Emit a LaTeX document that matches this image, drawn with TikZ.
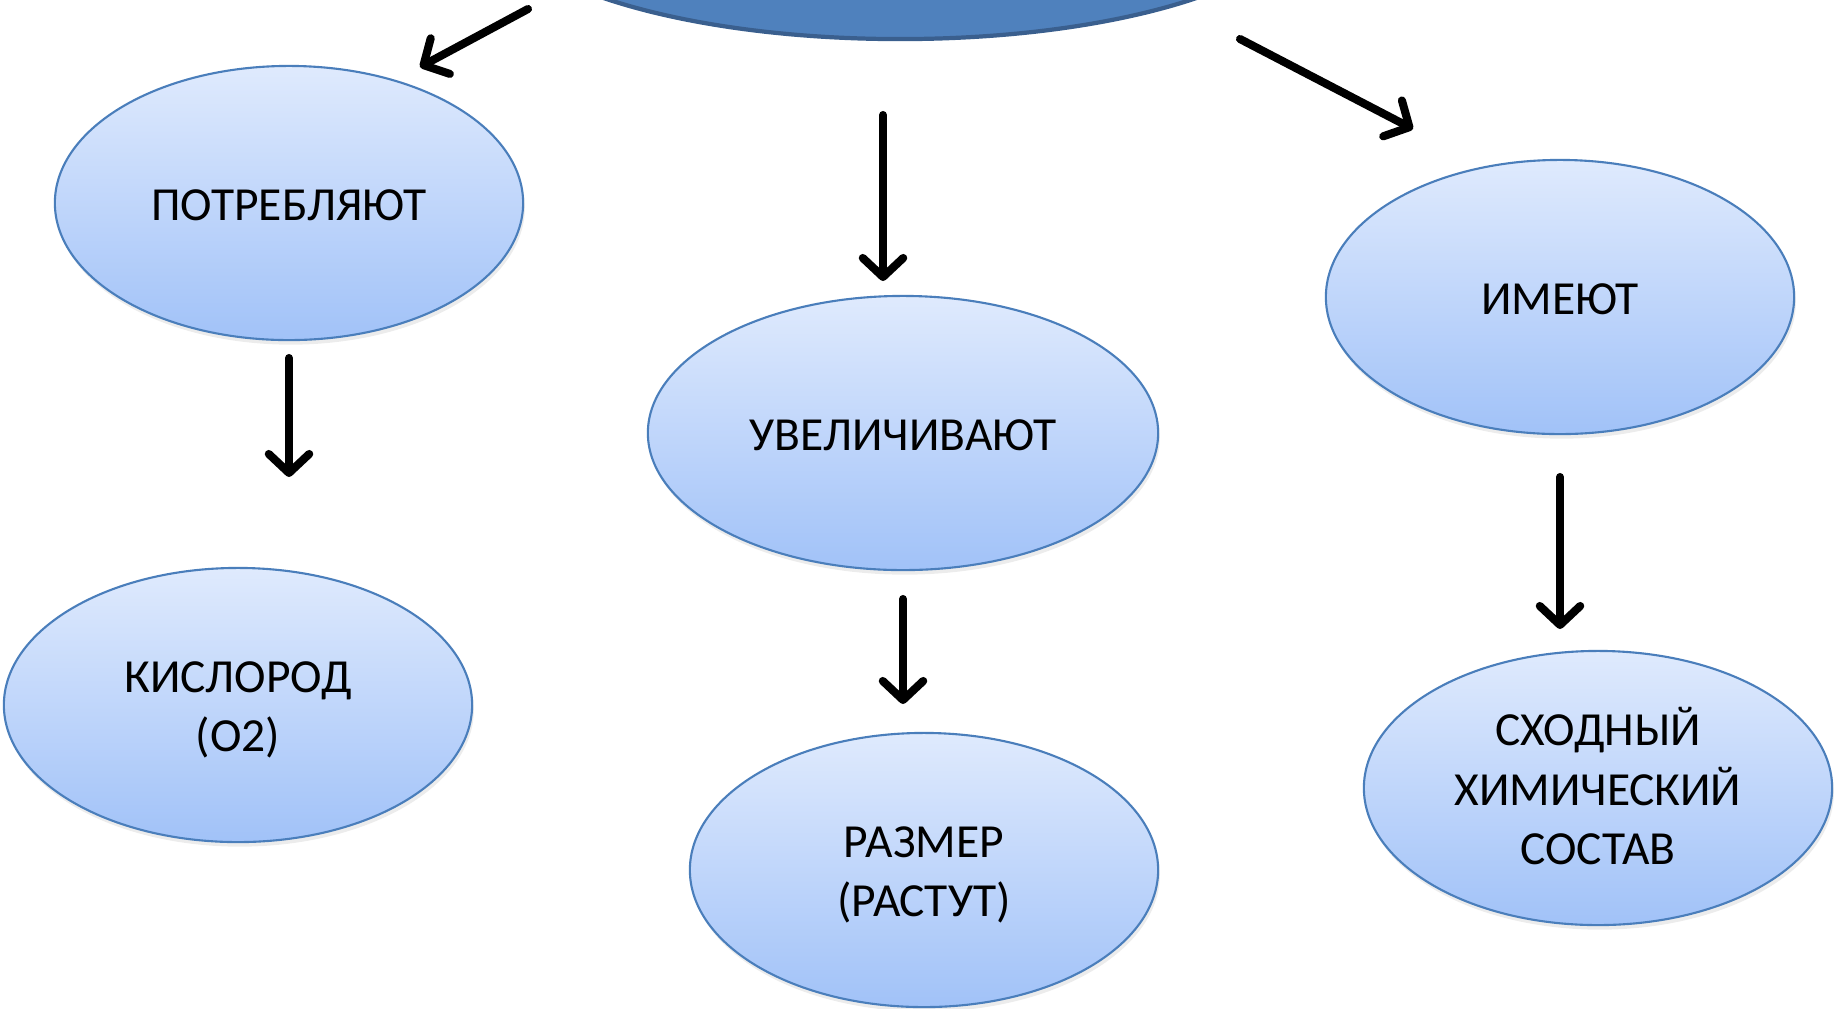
\documentclass[tikz,border=0pt]{standalone}
\usepackage{fontspec}
\setmainfont{Carlito}
\usetikzlibrary{shapes.geometric,arrows.meta,shadows}

\definecolor{topfill}{HTML}{4F81BD}
\definecolor{topedge}{HTML}{3A5F8E}
\definecolor{bubbleedge}{HTML}{4A7EBB}
\definecolor{bubbletop}{HTML}{DFEAFD}
\definecolor{bubblebot}{HTML}{A1C2F8}

% fixed top and bottom of the text block
\newcommand\tup{\rule{0pt}{12.7pt}}
\newcommand\tdn{\rule[-3pt]{0pt}{3pt}}

\begin{document}
\begin{tikzpicture}[x=0.01cm,y=-0.01cm,
    bubble/.style={ellipse,draw=bubbleedge,line width=0.6pt,
      top color=bubbletop,bottom color=bubblebot,
      minimum width=4.68cm,minimum height=2.74cm,inner sep=0pt,
      align=center,font=\fontsize{13.5}{16.8}\selectfont,
      drop shadow={shadow xshift=0.5pt,shadow yshift=-1.3pt,opacity=0.15}},
    arr/.style={line width=2.3pt,line cap=round,
      -{Straight Barb[length=5.4pt,width=11.5pt,round]}}]
  \useasboundingbox (0,0) rectangle (1839,1008);

  % top node, mostly off the page
  \node[ellipse,fill=topfill,draw=topedge,line width=1.2pt,
    minimum width=8.2cm,minimum height=2.66cm] (org) at (900,-94) {};

  \node[bubble] (potr) at (289,203) {\tup ПОТРЕБЛЯЮТ\tdn};
  \node[bubble,minimum width=5.1cm] (uvel) at (903,433) {\tup УВЕЛИЧИВАЮТ\tdn};
  \node[bubble] (imeut) at (1560,297) {\tup ИМЕЮТ\tdn};
  \node[bubble] (kisl) at (238,705) {\tup КИСЛОРОД\\(О2)\tdn};
  \node[bubble] (razm) at (924,870) {\tup РАЗМЕР\\(РАСТУТ)\tdn};
  \node[bubble] (shod) at (1598,788) {\tup СХОДНЫЙ\\ХИМИЧЕСКИЙ\\СОСТАВ\tdn};

  % arrow ends
  \coordinate (orgL) at (528,9);    \coordinate (potrIn) at (420,67);
  \coordinate (orgM) at (883,115);  \coordinate (uvelIn) at (883,281);
  \coordinate (orgR) at (1240,39);  \coordinate (imeutIn) at (1413,129);
  \coordinate (potrOut) at (289,358);  \coordinate (kislIn) at (289,477);
  \coordinate (uvelOut) at (903,599);  \coordinate (razmIn) at (903,704);
  \coordinate (imeutOut) at (1560,477); \coordinate (shodIn) at (1560,629);

  \draw[arr] (orgL) -- (potrIn);
  \draw[arr] (orgM) -- (uvelIn);
  \draw[arr] (orgR) -- (imeutIn);
  \draw[arr] (potrOut) -- (kislIn);
  \draw[arr] (uvelOut) -- (razmIn);
  \draw[arr] (imeutOut) -- (shodIn);
\end{tikzpicture}
\end{document}
